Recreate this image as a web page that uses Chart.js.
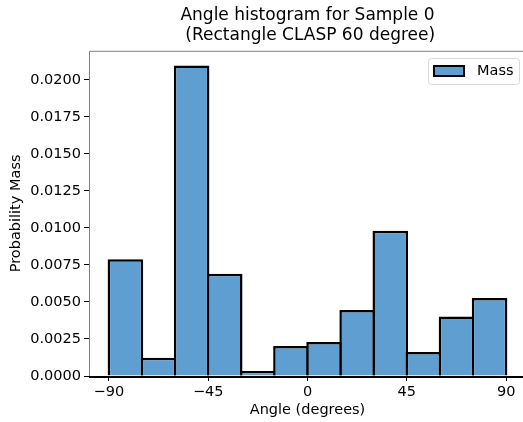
<!DOCTYPE html>
<html>
<head>
<meta charset="utf-8">
<script src="https://cdn.jsdelivr.net/npm/chart.js@4.4.0/dist/chart.umd.min.js"></script>
<style>
  html, body { margin: 0; padding: 0; background: #fff; overflow: hidden; }
  #wrap { width: 530px; height: 422px; }
</style>
</head>
<body>
<div id="wrap"><canvas id="myChart"></canvas></div>
<script>
// histogram bins (centres, degrees) and probability mass per bin
var binCenters = [-82.5, -67.5, -52.5, -37.5, -22.5, -7.5, 7.5, 22.5, 37.5, 52.5, 67.5, 82.5];
var massValues = [0.00789, 0.00124, 0.02097, 0.00691, 0.00034, 0.00203, 0.00230, 0.00446, 0.00980, 0.00162, 0.00401, 0.00527];
var xTicks = [-90, -45, 0, 45, 90];
var yTicks = [0, 0.0025, 0.005, 0.0075, 0.01, 0.0125, 0.015, 0.0175, 0.02];

var points = [];
for (var i = 0; i < binCenters.length; i++) {
    points.push({x: binCenters[i], y: massValues[i]});
}

function minus(v) {
    return String(v).replace('-', '\u2212');
}

// box round the plot + legend drawn inside the upper right corner
var framePlugin = {
    id: 'frame',
    afterDraw: function(chart) {
        var a = chart.chartArea;
        var ctx = chart.ctx;
        ctx.save();
        ctx.lineWidth = 1;
        ctx.strokeStyle = '#7f7f7f';
        ctx.beginPath();
        ctx.moveTo(a.left + 0.5, a.bottom);
        ctx.lineTo(a.left + 0.5, a.top + 0.5);
        ctx.lineTo(a.right - 0.5, a.top + 0.5);
        ctx.lineTo(a.right - 0.5, a.bottom);
        ctx.stroke();
        ctx.strokeStyle = '#000';
        ctx.lineWidth = 2;
        ctx.beginPath();
        ctx.moveTo(a.left, a.bottom + 1);
        ctx.lineTo(a.right, a.bottom + 1);
        ctx.stroke();

        // legend
        var ds = chart.data.datasets[0];
        ctx.lineWidth = 1;
        ctx.fillStyle = 'rgba(255,255,255,0.8)';
        ctx.strokeStyle = '#d9d9d9';
        ctx.beginPath();
        ctx.roundRect(428.5, 58.5, 91, 26, 3);
        ctx.fill();
        ctx.stroke();
        ctx.fillStyle = ds.backgroundColor;
        ctx.fillRect(434, 66, 30, 10);
        ctx.lineWidth = 2;
        ctx.strokeStyle = ds.borderColor;
        ctx.strokeRect(434, 66, 30, 10);
        ctx.fillStyle = '#000';
        ctx.font = '14.5px "DejaVu Sans"';
        ctx.textBaseline = 'middle';
        ctx.textAlign = 'left';
        ctx.fillText(ds.label, 477, 71.5);
        ctx.restore();
    }
};

var ctx = document.getElementById('myChart').getContext('2d');
var chart = new Chart(ctx, {
    type: 'bar',
    data: {
        datasets: [{
            label: 'Mass',
            data: points,
            backgroundColor: '#5f9ed1',
            borderColor: '#000',
            borderWidth: 2.5,
            borderSkipped: 'start',
            barPercentage: 1.075,
            categoryPercentage: 1.0
        }]
    },
    options: {
        responsive: true,
        maintainAspectRatio: false,
        animation: false,
        layout: { padding: { left: 0, right: 4, top: 0, bottom: 0 } },
        plugins: {
            title: {
                display: true,
                fullSize: false,
                text: ['Angle histogram for Sample 0', ' (Rectangle CLASP 60 degree)'],
                color: '#000',
                font: { family: 'DejaVu Sans', size: 17, weight: 'normal', lineHeight: 1.17 },
                padding: { top: 6, bottom: 5 }
            },
            legend: { display: false },
            tooltip: { enabled: false }
        },
        scales: {
            x: {
                type: 'linear',
                min: -99,
                max: 99,
                offset: false,
                grid: { offset: false, drawOnChartArea: false, drawTicks: true, tickLength: 5, color: '#000' },
                border: { display: false },
                afterBuildTicks: function(s) { s.ticks = xTicks.map(function(v) { return {value: v}; }); },
                afterFit: function(s) { s.height = 46; },
                ticks: {
                    color: '#000',
                    padding: 3,
                    maxRotation: 0,
                    font: { family: 'DejaVu Sans', size: 14.5 },
                    callback: function(v) { return minus(v); }
                },
                title: {
                    display: true,
                    text: 'Angle (degrees)',
                    color: '#000',
                    font: { family: 'DejaVu Sans', size: 14.5 },
                    padding: { top: 0, bottom: 3 }
                }
            },
            y: {
                min: 0,
                max: 0.02196,
                grid: { drawOnChartArea: false, drawTicks: true, tickLength: 5, color: '#000' },
                border: { display: false },
                afterBuildTicks: function(s) { s.ticks = yTicks.map(function(v) { return {value: v}; }); },
                afterFit: function(s) { s.width = 89; },
                ticks: {
                    color: '#000',
                    padding: 3,
                    font: { family: 'DejaVu Sans', size: 14.5 },
                    callback: function(v) { return v.toFixed(4); }
                },
                title: {
                    display: true,
                    text: 'Probability Mass',
                    color: '#000',
                    font: { family: 'DejaVu Sans', size: 14.5 },
                    padding: { top: 8, bottom: 0 }
                }
            }
        }
    },
    plugins: [framePlugin]
});
</script>
</body>
</html>
